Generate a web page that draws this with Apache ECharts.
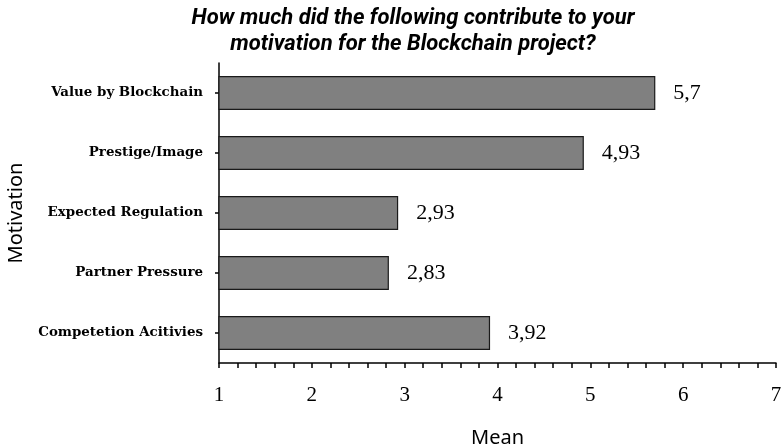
<!DOCTYPE html>
<html style="height: 100%">
<head>
    <meta charset="utf-8">
    <script type="text/javascript" src="https://cdn.jsdelivr.net/npm/echarts@6/dist/echarts.min.js"></script>
</head>
<body style="height: 100%; margin: 0; background: #fff">
<div id="container" style="width: 784px; height: 447px"></div>
<script type="text/javascript">
    var categories = ['Value by Blockchain', 'Prestige/Image', 'Expected Regulation', 'Partner Pressure', 'Competetion Acitivies'];
    var means = [5.7, 4.93, 2.93, 2.83, 3.92];
    var xTicks = [1, 2, 3, 4, 5, 6, 7];

    var myChart = echarts.init(document.getElementById('container'));
    var option = {
        animation: false,
        title: {
            text: 'How much did the following contribute to your\nmotivation for the Blockchain project?',
            left: 408,
            top: 0,
            textAlign: 'center',
            textStyle: {
                fontFamily: 'Roboto',
                fontStyle: 'italic',
                fontWeight: 'bold',
                fontSize: 22,
                lineHeight: 26,
                color: '#000'
            }
        },
        grid: {
            left: 219,
            right: 8,
            top: 63,
            bottom: 84,
            outerBoundsMode: 'none',
            containLabel: false
        },
        xAxis: {
            type: 'value',
            min: xTicks[0],
            max: xTicks[xTicks.length - 1],
            interval: 1,
            name: 'Mean',
            nameLocation: 'middle',
            nameGap: 65,
            nameTextStyle: {fontFamily: 'Noto Sans', fontSize: 20, color: '#000'},
            axisLine: {show: true, lineStyle: {color: '#000', width: 1.5}},
            axisTick: {show: true, length: 5, lineStyle: {color: '#000', width: 1.5}},
            minorTick: {show: true, splitNumber: 5, length: 5, lineStyle: {color: '#000', width: 1.5}},
            splitLine: {show: false},
            axisLabel: {
                margin: 22,
                fontFamily: 'Liberation Serif',
                fontSize: 21,
                color: '#000'
            }
        },
        yAxis: {
            type: 'category',
            data: categories,
            inverse: true,
            name: 'Motivation',
            nameLocation: 'middle',
            nameGap: 193,
            nameTextStyle: {fontFamily: 'Noto Sans', fontSize: 20, color: '#000'},
            axisLine: {show: true, lineStyle: {color: '#000', width: 1.5}},
            axisTick: {show: true, alignWithLabel: true, length: 4, lineStyle: {color: '#000', width: 1.5}},
            axisLabel: {
                margin: 16,
                fontFamily: 'DejaVu Serif',
                fontWeight: 'bold',
                fontSize: 13.4,
                color: '#000'
            }
        },
        series: [{
            type: 'bar',
            data: means,
            barWidth: 34,
            itemStyle: {color: '#808080', borderColor: '#1a1a1a', borderWidth: 1.2},
            label: {
                show: true,
                position: 'right',
                distance: 18,
                fontFamily: 'Liberation Serif',
                fontSize: 22,
                color: '#000',
                formatter: function (p) {
                    return String(p.value).replace('.', ',');
                }
            }
        }]
    };
    myChart.setOption(option);
</script>
</body>
</html>
